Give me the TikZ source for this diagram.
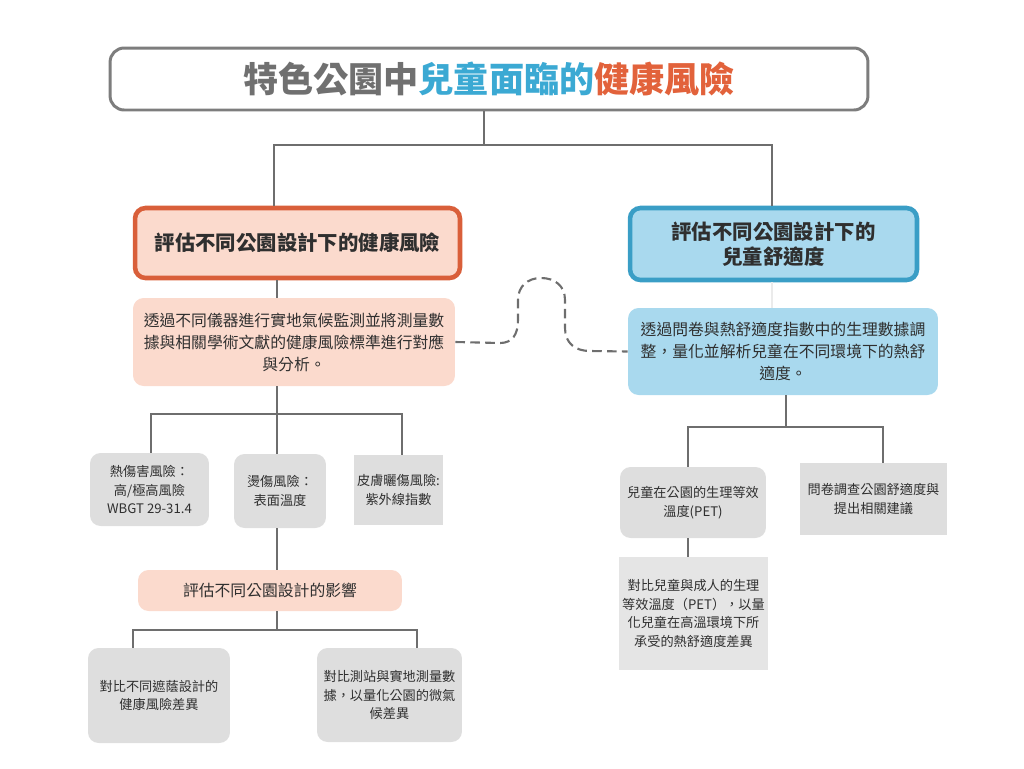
\documentclass[tikz,border=0pt]{standalone}
\usepackage{fontspec}
\setmainfont{Noto Sans CJK TC}
\usepackage{xcolor}
\usepackage{tikz}
\usetikzlibrary{positioning}
\definecolor{ttlgray}{HTML}{707070}
\definecolor{ttlblue}{HTML}{3BA9D3}
\definecolor{ttlred}{HTML}{E2623B}
\definecolor{redline}{HTML}{D95F3A}
\definecolor{peach}{HTML}{FBDACD}
\definecolor{blueline}{HTML}{3A9EC6}
\definecolor{skyfill}{HTML}{A9D9EE}
\definecolor{boxgray}{HTML}{DEDEDE}
\definecolor{linegray}{HTML}{6E6E6E}
\definecolor{ink}{HTML}{2F2F2F}

\begin{document}
\begin{tikzpicture}[x=0.02cm,y=-0.02cm,
	link/.style={draw=linegray,line width=1.4pt},
	head/.style={rounded corners=6pt,line width=2.6pt,align=center,text=ink,
		font=\bfseries\fontsize{11.6}{14}\selectfont},
	desc/.style={rounded corners=6pt,align=center,text=ink,inner sep=2pt,
		font=\fontsize{9}{12.5}\selectfont},
	leaf/.style={fill=boxgray,rounded corners=6pt,align=center,text=ink,inner sep=2pt,
		font=\fontsize{7.5}{10.5}\selectfont},
	sqleaf/.style={leaf,sharp corners}]
		\useasboundingbox (0,0) rectangle (1024,768);
		%
		\node[draw=linegray!90,line width=1.7pt,rounded corners=8pt,minimum width=15.16cm,minimum height=1.24cm,
			font=\bfseries\fontsize{20}{24}\selectfont] (title) at (489,79)
			{{\color{ttlgray}特色公園中}{\color{ttlblue}兒童面臨的}{\color{ttlred}健康風險}};
		\node[head,draw=redline,fill=peach,minimum width=6.5cm,minimum height=1.4cm] (headL) at (297.5,243)
			{評估不同公園設計下的健康風險};
		\node[head,draw=blueline,fill=skyfill,minimum width=5.74cm,minimum height=1.44cm] (headR) at (773.5,244)
			{評估不同公園設計下的\\兒童舒適度};
		%
		\node[desc,fill=peach,minimum width=6.44cm,minimum height=1.76cm] (descL) at (294,342)
			{透過不同儀器進行實地氣候監測並將測量數\\據與相關學術文獻的健康風險標準進行對應\\與分析。};
		\node[desc,fill=skyfill,minimum width=6.2cm,minimum height=1.74cm] (descR) at (783,351.5)
			{透過問卷與熱舒適度指數中的生理數據調\\整，量化並解析兒童在不同環境下的熱舒\\適度。};
		%
		\node[leaf,minimum width=2.38cm,minimum height=1.46cm] (heat) at (149.5,489.5)
			{熱傷害風險：\\高/極高風險\\WBGT 29-31.4};
		\node[leaf,minimum width=1.84cm,minimum height=1.48cm] (burn) at (280,491)
			{燙傷風險：\\表面溫度};
		\node[sqleaf,minimum width=1.66cm,minimum height=1.4cm] (sun) at (398.5,490)
			{皮膚曬傷風險:\\紫外線指數};
		\node[desc,fill=peach,minimum width=5.28cm,minimum height=0.82cm] (effect) at (270,590.5)
			{評估不同公園設計的影響};
		\node[leaf,minimum width=2.84cm,minimum height=1.9cm] (shade) at (159,695.5)
			{對比不同遮蔭設計的\\健康風險差異};
		\node[leaf,minimum width=2.9cm,minimum height=1.88cm] (station) at (389.5,695)
			{對比測站與實地測量數\\據，以量化公園的微氣\\候差異};
		%
		\node[leaf,minimum width=2.92cm,minimum height=1.42cm] (pet) at (693,502.5)
			{兒童在公園的生理等效\\溫度(PET)};
		\node[sqleaf,minimum width=2.94cm,minimum height=1.44cm] (survey) at (873.5,499)
			{問卷調查公園舒適度與\\提出相關建議};
		\node[sqleaf,fill=boxgray!80,minimum width=2.94cm,minimum height=2.26cm] (adult) at (693.5,613.5)
			{對比兒童與成人的生理\\等效溫度（PET），以量\\化兒童在高溫環境下所\\承受的熱舒適度差異};
		%
		\coordinate (j0) at (484,145);
		\coordinate (j0L) at (274,145);
		\coordinate (j0R) at (772,145);
		\draw[link] (j0 |- title.south) -- (j0);
		\draw[link] (j0L |- headL.north) -- (j0L) -- (j0R) -- (j0R |- headR.north);
		%
		\coordinate (j1) at (277,414);
		\coordinate (j1L) at (151,414);
		\coordinate (j1R) at (402,414);
		\draw[link] (j1 |- headL.south) -- (j1 |- descL.north);
		\draw[link] (j1 |- descL.south) -- (j1);
		\draw[link] (j1L |- heat.north) -- (j1L) -- (j1R) -- (j1R |- sun.north);
		\draw[link] (j1) -- (j1 |- burn.north);
		\draw[link] (j1 |- burn.south) -- (j1 |- effect.north);
		%
		\coordinate (j2) at (277,630);
		\coordinate (j2L) at (133,630);
		\coordinate (j2R) at (417,630);
		\draw[link] (j2 |- effect.south) -- (j2);
		\draw[link] (j2L |- shade.north) -- (j2L) -- (j2R) -- (j2R |- station.north);
		%
		\coordinate (j3) at (786,427);
		\coordinate (j3L) at (688,427);
		\coordinate (j3R) at (883,427);
		\draw[draw=black!8,line width=1.4pt] (j0R |- headR.south) -- (j0R |- descR.north);
		\draw[link] (j3 |- descR.south) -- (j3);
		\draw[link] (j3L |- pet.north) -- (j3L) -- (j3R) -- (j3R |- survey.north);
		\draw[link] (j3L |- pet.south) -- (j3L |- adult.north);
		%
		\draw[draw=linegray,line width=1.2pt,dash pattern=on 5.5pt off 3pt]
			(descL.east) -- (500,343) .. controls (512,343) and (518,335) .. (518,320)
			-- (518,300) .. controls (518,286) and (528,278) .. (541,278)
			.. controls (555,278) and (565,286) .. (565,300)
			-- (565,328) .. controls (565,343) and (575,351) .. (590,351) -- (descR.west);
\end{tikzpicture}
\end{document}
